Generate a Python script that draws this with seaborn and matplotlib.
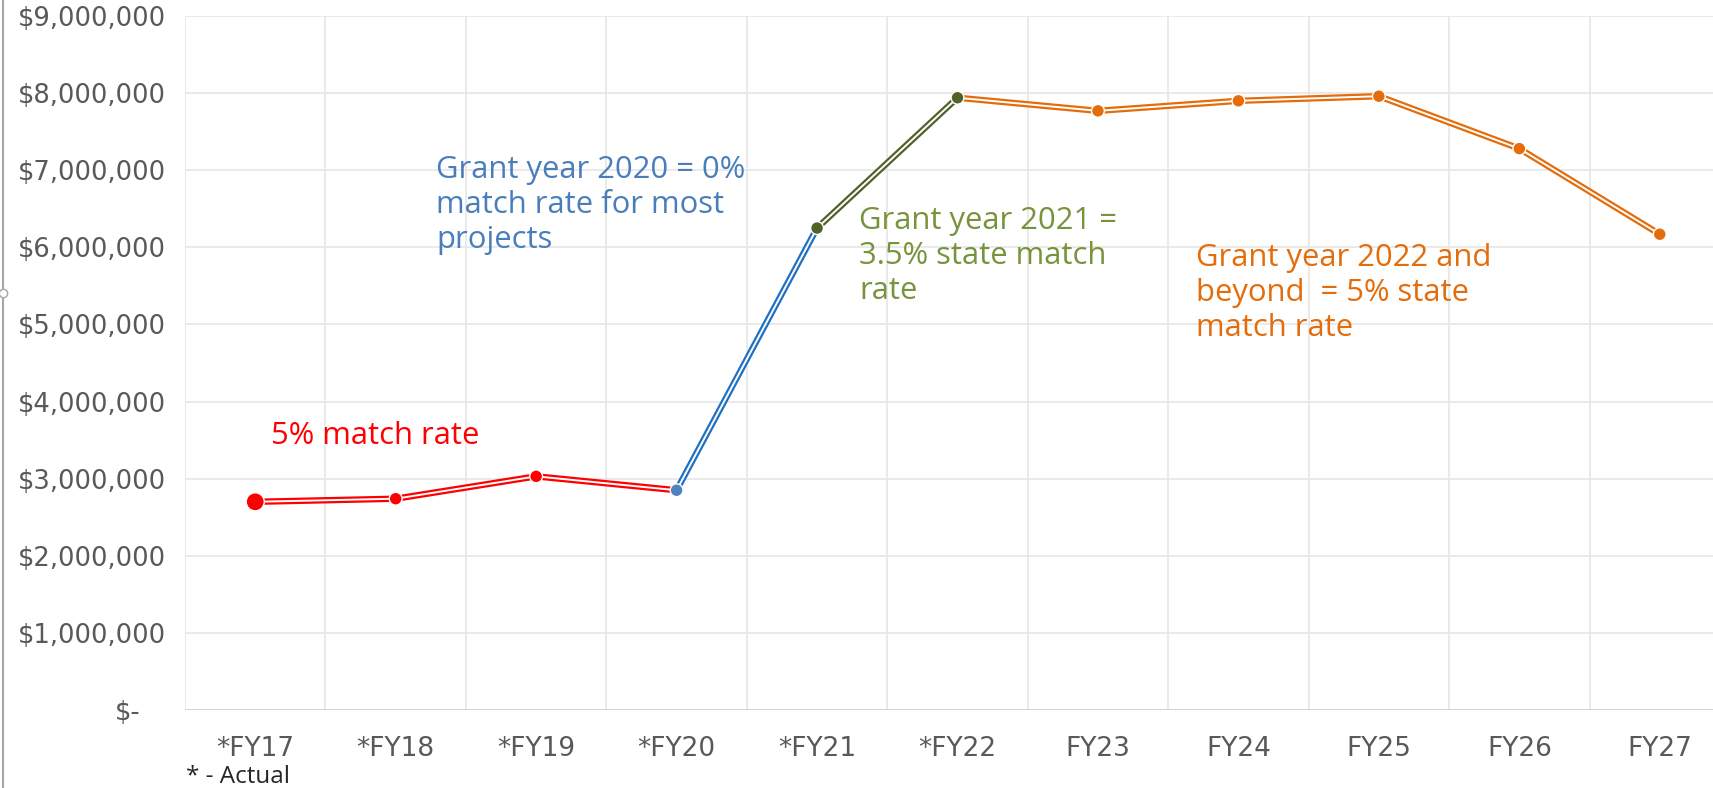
import numpy as np
import pandas as pd
import matplotlib
matplotlib.use('Agg')
import matplotlib.pyplot as plt
from matplotlib.lines import Line2D
from matplotlib.transforms import ScaledTranslation
import seaborn as sns

# data (values in dollars)
years = ['*FY17', '*FY18', '*FY19', '*FY20', '*FY21', '*FY22',
         'FY23', 'FY24', 'FY25', 'FY26', 'FY27']
amounts = [2700000, 2740000, 3030000, 2850000, 6250000, 7940000,
           7770000, 7900000, 7960000, 7280000, 6170000]

# line segments: (first index, last index, line colour)
segments = [(0, 3, '#FF0000'), (3, 4, '#1F70C1'), (4, 5, '#4F6228'), (5, 10, '#E46C0A')]
marker_colors = ['#FF0000', '#FF0000', '#FF0000', '#4F81BD', '#4F6228', '#4F6228',
                 '#E46C0A', '#E46C0A', '#E46C0A', '#E46C0A', '#E46C0A']

yticks = list(range(0, 9000001, 1000000))
ytick_labels = ['$-'] + ['${:,.0f}'.format(v) for v in yticks[1:]]

notes = [
    ('5% match rate', 0.11, 3550000, '#FF0000'),
    ('Grant year 2020 = 0%\nmatch rate for most\nprojects', 1.29, 6550000, '#4A7EBB'),
    ('Grant year 2021 =\n3.5% state match\nrate', 4.30, 5890000, '#77933C'),
    ('Grant year 2022 and\nbeyond  = 5% state\nmatch rate', 6.70, 5410000, '#E46C0A'),
]

sns.set_theme(style='white')
plt.rcParams['font.family'] = ['DejaVu Sans']

df = pd.DataFrame({'pos': np.arange(len(years)), 'amount': amounts, 'year': years})

W, H = 1713, 788
fig = plt.figure(figsize=(W / 100, H / 100), dpi=100)
ax = fig.add_axes([185 / W, 1 - 710 / H, (1730 - 185) / W, (710 - 16) / H])

# grid
for y in yticks[1:]:
    ax.axhline(y, color='#E6E6E6', lw=1.2, zorder=0)
for x in np.arange(-0.5, len(years), 1.0):
    ax.axvline(x, color='#E6E6E6', lw=1.2, zorder=0)
ax.axhline(0, color='#D0D0D0', lw=1.3, zorder=0)

# double line segments
for i0, i1, col in segments:
    seg = df.iloc[i0:i1 + 1]
    sns.lineplot(data=seg, x='pos', y='amount', color=col, lw=4.6, ax=ax,
                 solid_capstyle='butt', zorder=2)
    sns.lineplot(data=seg, x='pos', y='amount', color='white', lw=1.4, ax=ax,
                 solid_capstyle='butt', zorder=3)

# markers
sizes = [170] + [85] * (len(years) - 1)
sns.scatterplot(data=df, x='pos', y='amount', c=marker_colors, s=sizes,
                edgecolor='white', linewidth=1.0, ax=ax, zorder=4, legend=False)

for txt, x, y, col in notes:
    ax.text(x, y, txt, color=col, fontsize=22.3, family='Open Sans',
            ha='left', va='center', linespacing=1.22, zorder=5)

ax.set_xlim(-0.5, len(years) - 0.5)
ax.set_ylim(0, 9000000)
ax.set_xticks(df['pos'])
ax.set_xticklabels(years, fontsize=19, color='#595959')
ax.set_yticks(yticks)
ax.set_yticklabels(ytick_labels, fontsize=18.6, color='#595959')
ax.tick_params(axis='x', length=0, pad=19)
ax.tick_params(axis='y', length=0, pad=14)
ax.set_xlabel('')
ax.set_ylabel('')
for s in ax.spines.values():
    s.set_visible(False)
ax.set_facecolor('white')

# "$-" sits further left (accounting format)
lab0 = ax.get_yticklabels()[0]
lab0.set_transform(lab0.get_transform() + ScaledTranslation(-0.25, 0, fig.dpi_scale_trans))

fig.text(186 / W, 1 - 777 / H, '* - Actual', fontsize=17.5, color='#262626',
         family='Open Sans', ha='left', va='center')

# screenshot border on the left
fig.add_artist(Line2D([3 / W, 3 / W], [0, 1], color='#A6A6A6', lw=1.5, transform=fig.transFigure))
fig.add_artist(Line2D([3 / W], [1 - 293 / H], marker='o', ms=6, mfc='white', mec='#A6A6A6',
                      transform=fig.transFigure))

fig.savefig('out.png', dpi=100, facecolor='white')
